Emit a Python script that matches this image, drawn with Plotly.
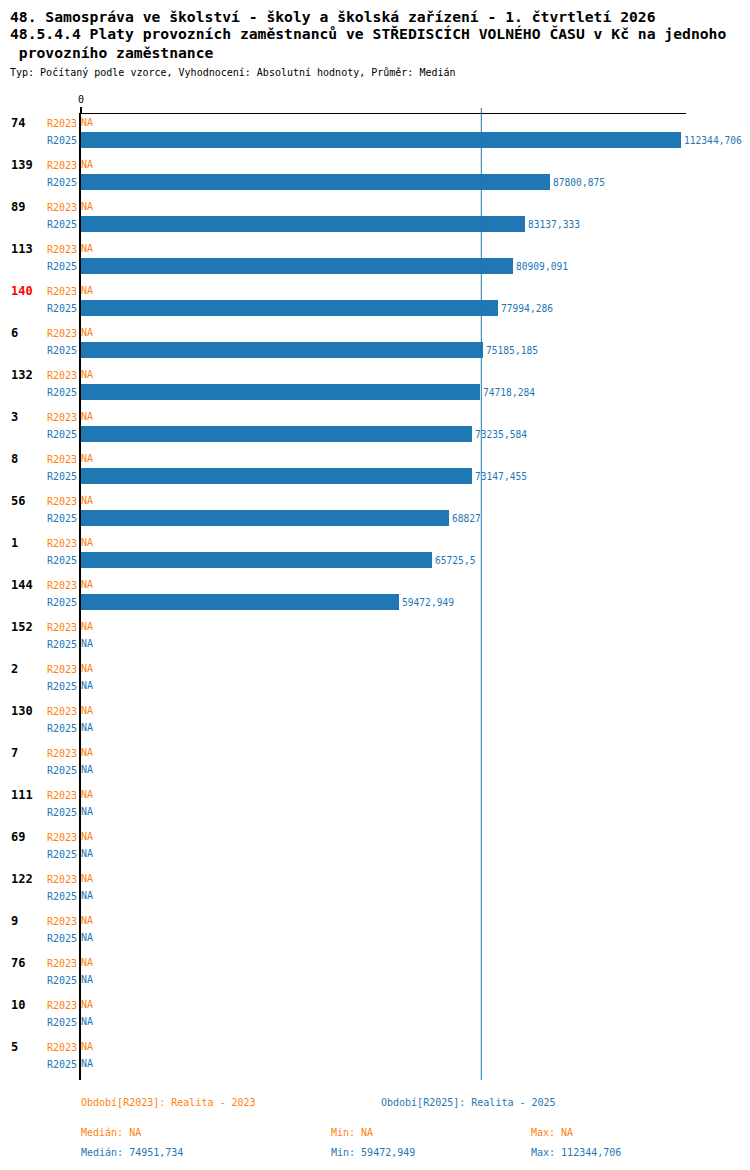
import math
import numpy as np
import plotly.graph_objects as go

# data
groups = ['74', '139', '89', '113', '140', '6', '132', '3', '8', '56', '1', '144',
          '152', '2', '130', '7', '111', '69', '122', '9', '76', '10', '5']
r2023 = [None] * len(groups)
r2025 = [112344.706, 87800.875, 83137.333, 80909.091, 77994.286, 75185.185,
         74718.284, 73235.584, 73147.455, 68827, 65725.5, 59472.949,
         None, None, None, None, None, None, None, None, None, None, None]
highlight = '140'

ORANGE = '#ff7f0e'
BLUE = '#1f77b4'
MONO = 'DejaVu Sans Mono'


def cz(v):
    # czech decimal comma
    return str(v).replace('.', ',')


# row positions: R2023 on the group, R2025 a bit below
step = 17 / 42
y23 = list(range(len(groups)))
y25 = [i + step for i in y23]

fig = go.Figure()

fig.add_trace(go.Bar(
    x=r2025, y=y25, orientation='h', width=16 / 42,
    marker=dict(color=BLUE, line=dict(width=0)),
    text=[cz(v) if v is not None else '' for v in r2025],
    textposition='outside', constraintext='none', cliponaxis=False,
    textfont=dict(family=MONO, size=9.6, color=BLUE),
    hoverinfo='x+y', showlegend=False,
))

# NA markers for missing values
na23 = [y for y, v in zip(y23, r2023) if v is None]
na25 = [y for y, v in zip(y25, r2025) if v is None]
fig.add_trace(go.Scatter(
    x=[0] * len(na23), y=na23, mode='text', text=['NA'] * len(na23),
    textposition='middle right', cliponaxis=False,
    textfont=dict(family=MONO, size=10, color=ORANGE), showlegend=False))
fig.add_trace(go.Scatter(
    x=[0] * len(na25), y=na25, mode='text', text=['NA'] * len(na25),
    textposition='middle right', cliponaxis=False,
    textfont=dict(family=MONO, size=10, color=BLUE), showlegend=False))

vals = [v for v in r2025 if v is not None]
median25 = math.floor(np.median(vals) * 1000) / 1000
min25, max25 = min(vals), max(vals)

# page pixels -> figure (the page body adds an 8px margin on each side)
OFF = 8
W, H = 750 - 2 * OFF, 1170 - 2 * OFF
L, R, T, B = 81 - OFF, 686 - OFF, 114 - OFF, 1080 - OFF


def px_x(p):
    return (p - OFF - L) / (R - L)


def px_y(p):
    return (B - (p - OFF)) / (B - T)


def txt(s, x, y, size=10, color='black', bold=False):
    fig.add_annotation(
        text='<b>%s</b>' % s if bold else s, xref='paper', yref='paper',
        x=px_x(x), y=px_y(y), xanchor='left', yanchor='middle', showarrow=False,
        font=dict(family=MONO, size=size, color=color))


txt('48. Samospráva ve školství - školy a školská zařízení - 1. čtvrtletí 2026', 8, 16, 14.7, bold=True)
txt('48.5.4.4 Platy provozních zaměstnanců ve STŘEDISCÍCH VOLNÉHO ČASU v Kč na jednoho', 8, 34, 14.7, bold=True)
txt(' provozního zaměstnance', 8, 53, 14.7, bold=True)
txt('Typ: Počítaný podle vzorce, Vyhodnocení: Absolutní hodnoty, Průměr: Medián', 8, 73, 10)

txt('Období[R2023]: Realita - 2023', 79, 1102, 10, ORANGE)
txt('Období[R2025]: Realita - 2025', 379, 1102, 10, BLUE)

na_stats = [v for v in r2023 if v is not None]
txt('Medián: ' + (cz(np.median(na_stats)) if na_stats else 'NA'), 79, 1132, 10, ORANGE)
txt('Min: ' + (cz(min(na_stats)) if na_stats else 'NA'), 329, 1132, 10, ORANGE)
txt('Max: ' + (cz(max(na_stats)) if na_stats else 'NA'), 529, 1132, 10, ORANGE)
txt('Medián: ' + cz(median25), 79, 1152, 10, BLUE)
txt('Min: ' + cz(min25), 329, 1152, 10, BLUE)
txt('Max: ' + cz(max25), 529, 1152, 10, BLUE)

# group labels
for g, y in zip(groups, y23):
    fig.add_annotation(
        text='<b>%s</b>' % g, xref='paper', yref='y', x=px_x(9), y=y,
        xanchor='left', yanchor='middle', showarrow=False,
        font=dict(family=MONO, size=12, color='red' if g == highlight else 'black'))

# median line
fig.add_shape(type='line', xref='x', yref='paper', x0=median25, x1=median25,
              y0=0, y1=1 + 6 / (B - T), line=dict(color=BLUE, width=1))

ticks_y = []
ticks_t = []
for a, b in zip(y23, y25):
    ticks_y += [a, b]
    ticks_t += ["<span style='color:%s'>R2023</span>" % ORANGE,
                "<span style='color:%s'>R2025</span>" % BLUE]

fig.update_layout(
    width=W, height=H,
    margin=dict(l=L, r=W - R, t=T, b=H - B),
    plot_bgcolor='white', paper_bgcolor='white',
    showlegend=False, bargap=0,
    font=dict(family=MONO, size=10, color='black'),
    xaxis=dict(
        side='top', range=[0, max25 * (R - L) / 600],
        showgrid=False, zeroline=False,
        showline=True, linecolor='black', linewidth=1,
        tickvals=[0], ticktext=['0'], ticks='outside', ticklen=6,
        tickcolor='black', tickwidth=2,
        tickfont=dict(family=MONO, size=10, color='black'),
    ),
    yaxis=dict(
        range=[(B - (123 - OFF)) / 42, -((123 - OFF) - T) / 42],
        showgrid=False, zeroline=False,
        showline=True, linecolor='black', linewidth=2,
        tickvals=ticks_y, ticktext=ticks_t, ticks='',
        tickfont=dict(family=MONO, size=10),
    ),
)

fig.write_html("out.html")
